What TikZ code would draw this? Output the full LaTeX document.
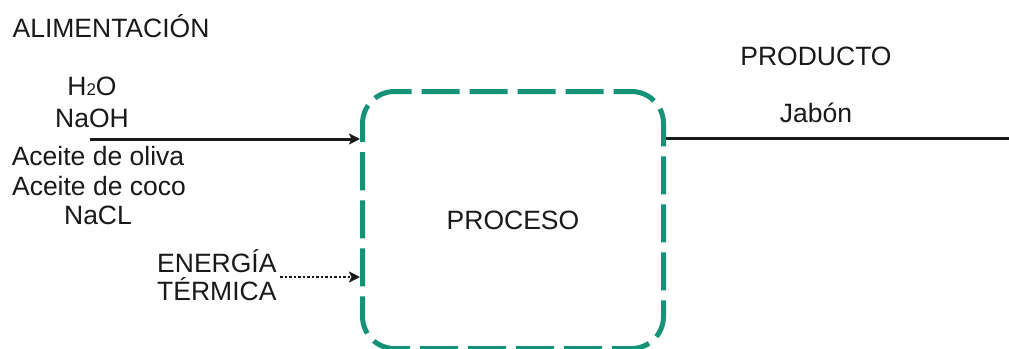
\documentclass[tikz,border=0pt]{standalone}
\usepackage{fontspec}
\setmainfont{Liberation Sans}
\usetikzlibrary{arrows.meta}
\definecolor{boxgreen}{RGB}{22,146,120}
\definecolor{txt}{RGB}{25,25,25}
\tikzset{
  lbl/.style={font=\fontsize{26.5}{30}\selectfont, text=txt, inner sep=0pt, anchor=base},
  procbox/.style={draw=boxgreen, line width=5pt, rounded corners=32pt, dash pattern=on 38pt off 10pt, dash phase=20pt,
     minimum width=301pt, minimum height=257pt, font=\fontsize{26.5}{30}\selectfont, text=txt, inner sep=0pt},
  flow/.style={line width=3pt, draw=black!90, -{Stealth[length=11pt,width=11pt,inset=2.5pt]}},
  heat/.style={line width=2.6pt, draw=black!90, dash pattern=on 2.5pt off 2pt, -{Stealth[length=11pt,width=11pt,inset=2.5pt]}},
  outline/.style={line width=3pt, draw=black!90}
}
\begin{document}
\begin{tikzpicture}[x=1pt,y=-1pt]
\useasboundingbox (0,0) rectangle (1009,348);
\node[procbox] (proc) at (513,220) {PROCESO};
\node[lbl] (alim) at (111,37) {ALIMENTACIÓN};
\node[lbl] (h2o) at (92,95) {H{\fontsize{17}{20}\selectfont 2}O};
\node[lbl] (naoh) at (92,127) {NaOH};
\node[lbl] (oliva) at (98,165) {Aceite de oliva};
\node[lbl] (coco) at (99,195) {Aceite de coco};
\node[lbl] (nacl) at (98,224) {NaCL};
\node[lbl, anchor=base west] (ener) at (157,272) {ENERGÍA};
\node[lbl, anchor=base west] (term) at (157,300) {TÉRMICA};
\node[lbl] (prod) at (816,65) {PRODUCTO};
\node[lbl] (jabon) at (816,122) {Jabón};
\coordinate (inA) at (90,139);
\coordinate (inB) at (280,277);
\coordinate (outE) at (1009,138);
\draw[flow] (inA) -- (inA -| proc.west);
\draw[heat] (inB) -- (inB -| proc.west);
\draw[outline] (outE -| proc.east) -- (outE);
\end{tikzpicture}
\end{document}
